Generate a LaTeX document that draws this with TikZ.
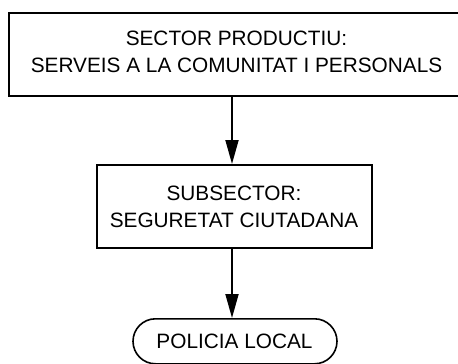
\documentclass[tikz,border=0pt]{standalone}
\usepackage{fontspec}
\setmainfont{Liberation Sans}
\usetikzlibrary{arrows.meta,shapes.misc}
\begin{document}
\begin{tikzpicture}[x=1pt,y=-1pt,
  box/.style={draw,line width=1.6pt,inner sep=0pt},
  lbl/.style={font=\fontsize{20.8}{24}\selectfont,inner sep=0pt,anchor=base},
  arr/.style={line width=1.8pt,-{Triangle[length=24pt,width=13pt]}}]
\useasboundingbox (0,0) rectangle (458,364);
\clip (0,0) rectangle (458,364);
% top box
\coordinate (tl) at (8,12);
\node[box,minimum width=462pt,minimum height=83pt,anchor=north west] (top) at (tl) {};
\node[lbl] (t1) at (236.5,45) {SECTOR PRODUCTIU:};
\node[lbl] (t2) at (236.5,72) {SERVEIS A LA COMUNITAT I PERSONALS};
% middle box
\node[box,minimum width=275pt,minimum height=83pt,anchor=north] (mid) at (234.5,164) {};
\node[lbl] (m1) at (234,200) {SUBSECTOR:};
\node[lbl] (m2) at (234,227) {SEGURETAT CIUTADANA};
% bottom
\node[draw,line width=1.6pt,rounded rectangle,minimum width=204pt,minimum height=45pt,inner sep=0pt,anchor=north] (pl) at (235,318) {};
\node[lbl] (p1) at (234.5,348) {POLICIA LOCAL};
% arrows
\draw[arr] (top.south -| 232,0) -- (mid.north -| 232,0);
\draw[arr] (mid.south -| 232,0) -- (pl.north -| 232,0);
\end{tikzpicture}
\end{document}
